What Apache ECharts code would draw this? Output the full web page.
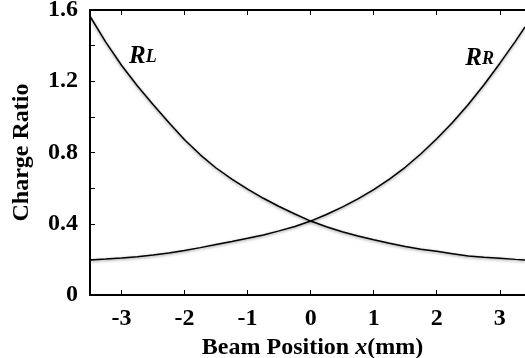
<!DOCTYPE html>
<html>
<head>
<meta charset="utf-8">
<script src="https://cdn.jsdelivr.net/npm/echarts@6/dist/echarts.min.js"></script>
<style>
  html, body { margin: 0; padding: 0; background: #fff; }
  #chart { width: 525px; height: 358px; }
</style>
</head>
<body>
<div id="chart"></div>
<script>
// beam position x (mm)
var xPos = [-3.5, -3.25, -3.0, -2.75, -2.5, -2.25, -2.0, -1.75, -1.5, -1.25, -1.0, -0.75, -0.5, -0.25,
  0, 0.25, 0.5, 0.75, 1.0, 1.25, 1.5, 1.75, 2.0, 2.25, 2.5, 2.75, 3.0, 3.25, 3.4]
// charge ratios
var ratioL = [1.565, 1.42, 1.29, 1.175, 1.07, 0.968, 0.872, 0.787, 0.713, 0.65, 0.594, 0.543, 0.497, 0.455,
  0.415, 0.383, 0.355, 0.331, 0.31, 0.29, 0.272, 0.257, 0.245, 0.232, 0.219, 0.212, 0.206, 0.2, 0.197]
var ratioR = [0.197, 0.202, 0.208, 0.215, 0.224, 0.236, 0.25, 0.266, 0.283, 0.3, 0.318, 0.337, 0.36, 0.385,
  0.415, 0.452, 0.493, 0.54, 0.592, 0.65, 0.717, 0.793, 0.877, 0.968, 1.07, 1.18, 1.3, 1.425, 1.505]
var yLabels = ['0', '0.4', '0.8', '1.2', '1.6']
var curveNames = ['L', 'R']
var labelAt = [[-2.66, 1.34], [2.68, 1.33]]

var font = 'Liberation Serif'
var fs = 24

function pairs(ys) {
  return xPos.map(function (x, i) { return [x, ys[i]] })
}

function curve(ys, k) {
  return {
    type: 'line',
    data: pairs(ys),
    symbol: 'none',
    lineStyle: {
      color: '#000',
      width: 1.5,
      shadowColor: 'rgba(0,0,0,0.45)',
      shadowBlur: 3,
      shadowOffsetY: 1
    },
    markPoint: {
      symbol: 'circle',
      symbolSize: 0,
      data: [{
        coord: labelAt[k],
        label: {
          show: true,
          position: 'inside',
          formatter: '{r|R}{s|' + curveNames[k] + '}',
          rich: {
            r: { fontFamily: font, fontStyle: 'italic', fontWeight: 'bold', fontSize: 25, color: '#000', verticalAlign: 'bottom' },
            s: { fontFamily: font, fontStyle: 'italic', fontWeight: 'bold', fontSize: 18, color: '#000', verticalAlign: 'bottom', padding: [0, 0, 2, 0] }
          }
        }
      }]
    }
  }
}

var chart = echarts.init(document.getElementById('chart'))
chart.setOption({
  animation: false,
  backgroundColor: '#fff',
  grid: { left: 90, right: 0, top: 10, bottom: 63, outerBoundsMode: 'none' },
  xAxis: [{
    type: 'value',
    min: -3.5,
    max: 3.4,
    splitNumber: 7,
    position: 'bottom',
    name: 'Beam Position {i|x}(mm)',
    nameLocation: 'middle',
    nameGap: 38,
    nameTextStyle: {
      fontFamily: font, fontWeight: 'bold', fontSize: fs, color: '#000', padding: [0, 0, 0, 10],
      rich: { i: { fontFamily: font, fontWeight: 'bold', fontStyle: 'italic', fontSize: fs, color: '#000' } }
    },
    axisLine: { onZero: false, lineStyle: { color: '#000', width: 2 } },
    axisTick: { inside: true, length: 5, lineStyle: { color: '#000' } },
    axisLabel: {
      showMinLabel: false, showMaxLabel: false, margin: 12,
      fontFamily: font, fontWeight: 'bold', fontSize: fs, color: '#000'
    },
    splitLine: { show: false }
  }, {
    type: 'value',
    min: -3.5,
    max: 3.4,
    splitNumber: 7,
    position: 'top',
    axisLine: { onZero: false, lineStyle: { color: '#000', width: 2 } },
    axisTick: { inside: true, length: 5, lineStyle: { color: '#000' } },
    axisLabel: { show: false },
    splitLine: { show: false }
  }],
  yAxis: {
    type: 'value',
    min: 0,
    max: 1.6,
    interval: 0.2,
    name: 'Charge Ratio',
    nameLocation: 'middle',
    nameGap: 56,
    nameTextStyle: { fontFamily: font, fontWeight: 'bold', fontSize: fs, color: '#000' },
    axisLine: { onZero: false, lineStyle: { color: '#000', width: 2 } },
    axisTick: { inside: true, length: 5, lineStyle: { color: '#000' } },
    axisLabel: {
      margin: 12,
      fontFamily: font, fontWeight: 'bold', fontSize: fs, color: '#000',
      formatter: function (v) {
        var k = Math.round(v * 10)
        return k % 4 === 0 ? yLabels[k / 4] : ''
      }
    },
    splitLine: { show: false }
  },
  series: [curve(ratioL, 0), curve(ratioR, 1)]
})
</script>
</body>
</html>
